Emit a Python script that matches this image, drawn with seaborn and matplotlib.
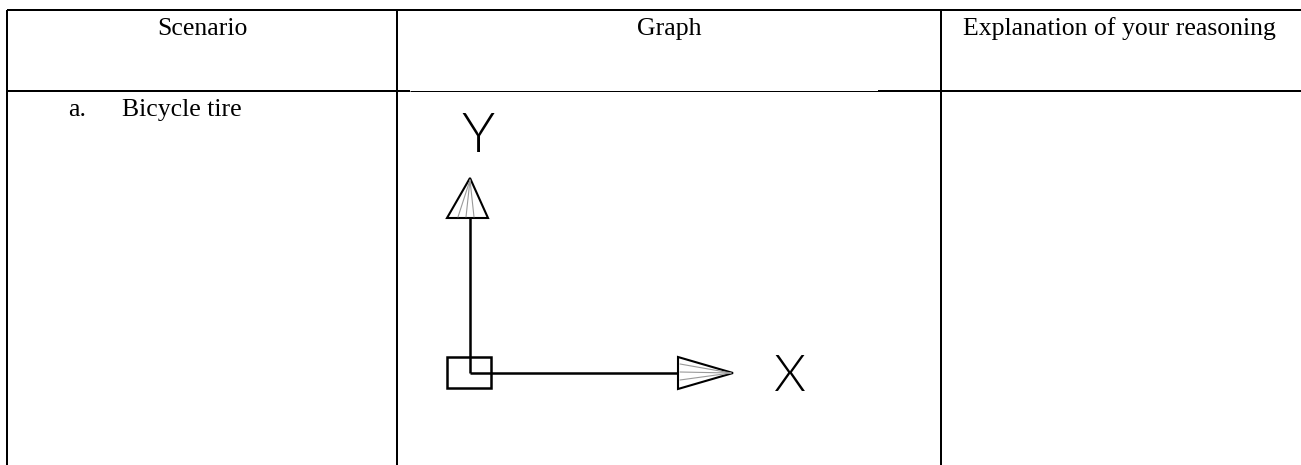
import matplotlib.patches as mpatches
import numpy as np
import seaborn as sns
from matplotlib import pyplot as plt

# table content
headers = ["Scenario", "Graph", "Explanation of your reasoning"]
row_marker = "a."
row_scenario = "Bicycle tire"
axis_names = ["X", "Y"]

# layout in pixels (figure is 1301 x 465)
col_edges = [7, 397, 941]
header_centers = [202, 669, 1119]
top_y = 10
header_y = 91
thick = 1.44
thin = 0.72


def draw_table(ax):
    ax.hlines(top_y, col_edges[0], 1301, color="black", lw=thick)
    ax.hlines(header_y, col_edges[0], 410, color="black", lw=thick)
    ax.hlines(header_y, 410, 878, color="black", lw=thin)
    ax.hlines(header_y, 878, 1301, color="black", lw=thick)
    ax.vlines(col_edges, top_y, 465, color="black", lw=thick)

    for text, cx in zip(headers, header_centers):
        ax.text(cx, 35, text, ha="center", va="baseline", fontsize=18.5, color="black")

    ax.text(68, 116, row_marker, ha="left", va="baseline", fontsize=18.5, color="black")
    ax.text(122, 116, row_scenario, ha="left", va="baseline", fontsize=18.5, color="black")


def draw_axis_icon(ax):
    ox, oy = 470, 373
    ax.plot([ox, ox], [218, oy], color="black", lw=1.8, solid_capstyle="butt")
    ax.plot([ox, 678], [oy, oy], color="black", lw=1.8, solid_capstyle="butt")
    ax.add_patch(mpatches.Rectangle((447, 357), 44, 31, fill=False, ec="black", lw=1.8))

    # arrow heads
    up = np.array([[447, 218], [488, 218], [470, 178]])
    right = np.array([[678, 357], [678, 389], [733, 373]])
    for tri in (up, right):
        ax.add_patch(mpatches.Polygon(tri, closed=True, fc="white", ec="black", lw=1.5))
    for x in (458, 466, 474):
        ax.plot([470, x], [180, 217], color="#9a9a9a", lw=0.8)
    for y in (364, 372, 380):
        ax.plot([731, 680], [373, y], color="#9a9a9a", lw=0.8)

    ax.text(790, 377, axis_names[0], ha="center", va="center", fontsize=37,
            family=["Lato", "DejaVu Sans"], fontweight=300, color="black")
    ax.text(478, 137, axis_names[1], ha="center", va="center", fontsize=40,
            family=["Lato", "DejaVu Sans"], fontweight=300, color="black")


sns.set_theme(style="white")
plt.rcParams["font.family"] = ["Liberation Serif", "DejaVu Serif"]

figure = plt.figure(figsize=(13.01, 4.65), dpi=100)
ax = figure.add_axes([0, 0, 1, 1])
ax.set_xlim(0, 1301)
ax.set_ylim(465, 0)
ax.axis("off")

draw_table(ax)
draw_axis_icon(ax)

figure.savefig("out.png", dpi=100, facecolor="white")
